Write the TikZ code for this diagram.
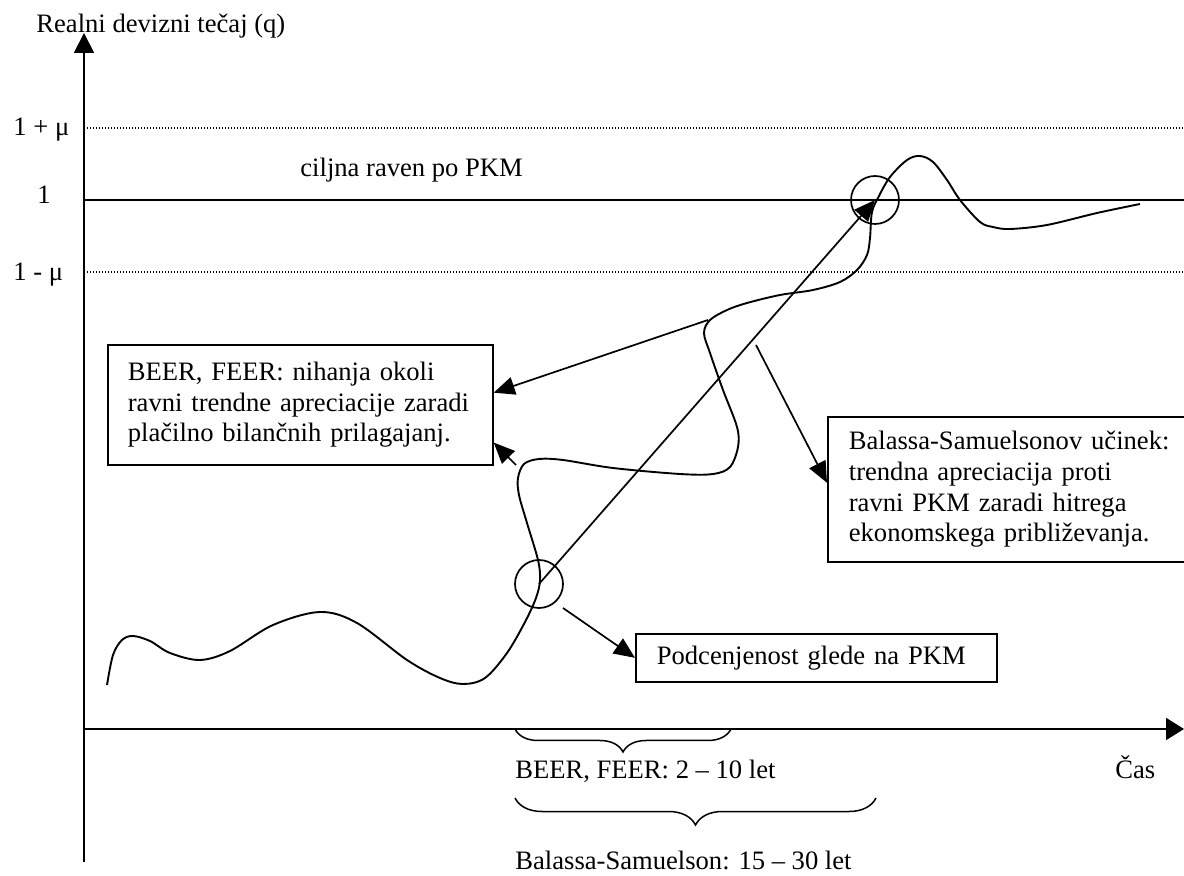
\documentclass[tikz,border=0pt]{standalone}
\usepackage{fontspec}
\setmainfont{Liberation Serif}
\usetikzlibrary{arrows.meta,calc,decorations.pathreplacing}
\begin{document}
\begin{tikzpicture}[x=0.5pt,y=-0.5pt,
  font=\fontsize{13.3}{15.3}\selectfont,
  ln/.style={line width=0.95pt},
  dotln/.style={line width=0.7pt, dash pattern=on 0.6pt off 0.9pt},
  axis/.style={line width=0.95pt, -{Triangle[length=10pt,width=10pt]}},
  xaxis/.style={line width=0.95pt, -{Triangle[length=9pt,width=11pt]}},
  arr/.style={line width=0.85pt, -{Triangle[length=10.5pt,width=9pt]}},
  box/.style={draw, line width=0.85pt, align=left, anchor=north west, inner ysep=0pt},
  ring/.style={draw, circle, line width=0.85pt, minimum size=24pt, inner sep=0pt},
  lbl/.style={anchor=base west, inner sep=0pt},
  brc/.style={decorate, decoration={brace, mirror, amplitude=#1}, line width=0.75pt}
]
\useasboundingbox (0,0) rectangle (1184,876);
\clip (0,0) rectangle (1184,876);

% axes
\coordinate (ybot) at (84,862);
\coordinate (ytop) at (84,33);
\coordinate (O) at (84,729);
\coordinate (xend) at (1184,729);
\draw[axis] (ybot) -- (ytop);
\draw[xaxis] (O) -- (xend);

% horizontal levels
\coordinate (up1) at (84,128);   \coordinate (up2) at (1184,128);
\coordinate (one1) at (84,200);  \coordinate (one2) at (1184,200);
\coordinate (lo1) at (84,272);   \coordinate (lo2) at (1184,272);
\draw[dotln] (up1) -- (up2);
\draw[ln] (one1) -- (one2);
\draw[dotln] (lo1) -- (lo2);

% labels
\node[lbl] (title) at (36,33) {Realni devizni tečaj (q)};
\node[lbl] (lup) at (13,136) {1 + μ};
\node[lbl] (lone) at (37,204) {1};
\node[lbl] (llo) at (13,281) {1 - μ};
\node[lbl] (target) at (300,177) {ciljna raven po PKM};
\node[lbl] (beerlbl) at (515,778) {BEER, FEER: 2 – 10 let};
\node[lbl] (cas) at (1115,778) {Čas};
\node[lbl] (bslbl) at (515,869) {Balassa-Samuelson: 15 – 30 let};

% exchange-rate path
\draw[ln] plot[smooth, tension=0.55] coordinates {
(107,685) (113,655) (122,640) (133,636) (150,641) (170,653) (200,660)
(230,651) (273,625) (320,612) (357,623) (407,660) (440,678) (463,684)
(485,678) (507,653) (525,622) (536,598) (540,580) (538,560) (527,523)
(519,495) (518,478) (524,464) (539,459) (563,460) (613,468) (680,474)
(713,474) (730,467) (738,447) (737,427) (723,390) (710,353) (704,333)
(710,320) (727,310) (747,303) (780,295) (813,290) (840,282) (857,270)
(867,255) (870,238) (872,212) (879,196) (890,177) (907,160) (920,156)
(933,162) (947,180) (960,200) (980,222) (993,227) (1010,229) (1047,225)
(1097,213) (1140,204)};

% circles
\node[ring] (c1) at (539,584) {};
\node[ring] (c2) at (875,200) {};
\draw[arr] (c1.center) -- (c2.center);

% boxes
\node[box, text width=172.5pt, inner xsep=10pt, minimum height=60pt] (b1) at (107,344)
  {BEER, FEER: nihanja okoli\\ravni trendne apreciacije zaradi\\plačilno bilančnih prilagajanj.};
\node[box, text width=165.5pt, inner xsep=10.5pt, minimum height=72.5pt] (b2) at (827,416)
  {Balassa-Samuelsonov učinek:\\trendna apreciacija proti\\ravni PKM zaradi hitrega\\ekonomskega približevanja.};
\node[box, text width=159.5pt, inner xsep=10.5pt, minimum height=24pt] (b3) at (635,633)
  {Podcenjenost glede na PKM};

% annotation arrows
\coordinate (sA) at (708,320);
\coordinate (sB) at (516,465);
\coordinate (sC) at (756,345);
\coordinate (sD) at (563,608);
\draw[arr] (sA) -- ($(b1.north east)!0.4!(b1.south east)$);
\draw[arr] (sB) -- ($(b1.north east)!0.81!(b1.south east)$);
\draw[arr] (sC) -- ($(b2.north west)!0.455!(b2.south west)$);
\draw[arr] (sD) -- (b3.west);

% braces
\coordinate (br1s) at (515,729); \coordinate (br1e) at (731,729);
\coordinate (br2s) at (515,798); \coordinate (br2e) at (876,798);
\draw[brc=11.5pt] (br1s) -- (br1e);
\draw[brc=13.5pt] (br2s) -- (br2e);
\end{tikzpicture}
\end{document}
